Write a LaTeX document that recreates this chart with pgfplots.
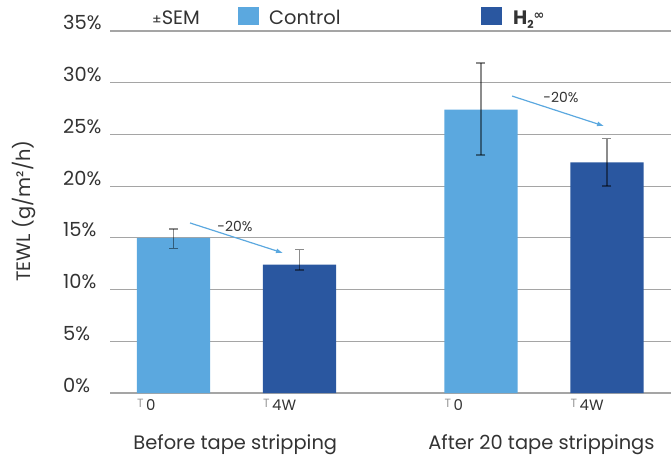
\documentclass[border=0pt]{standalone}
\usepackage{fontspec}
\setmainfont{Poppins}
\newfontfamily\dejavu{DejaVu Sans}
\usepackage{pgfplots}
\pgfplotsset{compat=1.18}
\usetikzlibrary{arrows.meta}
\definecolor{ctrl}{HTML}{5BA8DF}
\definecolor{htwo}{HTML}{2A57A0}
\definecolor{gridc}{HTML}{A5A5A5}
\definecolor{txt}{HTML}{333333}
\newcommand{\tT}{\raisebox{2.5bp}{\textcolor{gray!80}{\fontsize{12}{12}\selectfont T}}\hspace{2.5bp}}
\begin{document}
\begin{tikzpicture}
\begin{axis}[
  scale only axis, width=561bp, height=362bp,
  xmin=-0.504, xmax=3.948, ymin=0, ymax=35,
  axis line style={draw=none},
  ytick={0,5,...,35},
  ymajorgrids, grid style={gridc, line width=1.2bp},
  major tick length=0,
  yticklabel={\pgfmathprintnumber{\tick}\%},
  yticklabel style={anchor=base west, inner sep=0pt, xshift=-47bp, yshift=1bp, text=txt, font=\fontsize{19.5}{22}\selectfont},
  xtick={-0.29,0.71,2.15,3.15},
  xticklabels={{\tT 0},{\tT 4W},{\tT 0},{\tT 4W}},
  xticklabel style={anchor=north west, inner sep=0pt, yshift=-6bp, text=txt, font=\fontsize{15}{17}\selectfont},
  /pgf/number format/assume math mode=true,
  clip=false,
]
\addplot[ybar, bar width=0.58, bar shift=0pt, fill=ctrl, draw=none] coordinates {(0,15.0) (2.44,27.4)};
\addplot[ybar, bar width=0.58, bar shift=0pt, fill=htwo, draw=none] coordinates {(1,12.4) (3.44,22.3)};
\addplot[draw=none, mark=none, forget plot,
  error bars/.cd, y dir=both, y explicit,
  error bar style={draw=black, opacity=0.45, line width=1.3bp},
  error mark options={rotate=90, draw=black, opacity=0.45, mark size=4.5bp, line width=1.3bp}]
  coordinates {
  (0,15.0) += (0,0.86) -= (0,1.0)
  (1,12.4) += (0,1.46) -= (0,0.5)
  (2.44,27.4) += (0,4.5) -= (0,4.4)
  (3.44,22.3) += (0,2.3) -= (0,2.3)
  };
\draw[ctrl, line width=1.2bp, -{Latex[length=7bp,width=5bp]}] (axis cs:0.131,16.44) -- (axis cs:0.869,13.54);
\draw[ctrl, line width=1.2bp, -{Latex[length=7bp,width=5bp]}] (axis cs:2.687,28.71) -- (axis cs:3.417,25.81);
\node[text=txt, font=\fontsize{14}{16}\selectfont] at (axis cs:0.488,16.15) {-20\%};
\node[text=txt, font=\fontsize{14}{16}\selectfont] at (axis cs:3.075,28.62) {-20\%};
\node[anchor=base, text=txt, font=\fontsize{19.5}{22}\selectfont] at (axis cs:0.49,-5.51) {Before tape stripping};
\node[anchor=base, text=txt, font=\fontsize{19.5}{22}\selectfont] at (axis cs:2.92,-5.51) {After 20 tape strippings};
\end{axis}
\fill[ctrl] (128bp,368bp) rectangle (149bp,386bp);
\fill[htwo] (371bp,368bp) rectangle (392bp,386bp);
\node[anchor=base west, inner sep=0pt, text=txt, font=\fontsize{19.5}{22}\selectfont] at (42bp,368bp) {{\fontsize{14}{14}\selectfont ±}SEM};
\node[anchor=base west, inner sep=0pt, text=txt, font=\fontsize{19.5}{22}\selectfont] at (159bp,368bp) {Control};
\node[anchor=base west, inner sep=0pt, text=txt, font=\fontsize{19.5}{22}\selectfont\bfseries] at (403bp,368bp) {H\raisebox{-4bp}{\fontsize{11}{11}\selectfont 2}{\dejavu\bfseries\raisebox{5bp}{\fontsize{13}{13}\selectfont ∞}}};
\node[rotate=90, text=txt, font=\fontsize{19.5}{22}\selectfont] at (-86bp,182bp) {TEWL (g/m²/h)};
\pgfresetboundingbox
\path[use as bounding box] (-110bp,-64bp) rectangle (561bp,393bp);
\end{tikzpicture}
\end{document}
